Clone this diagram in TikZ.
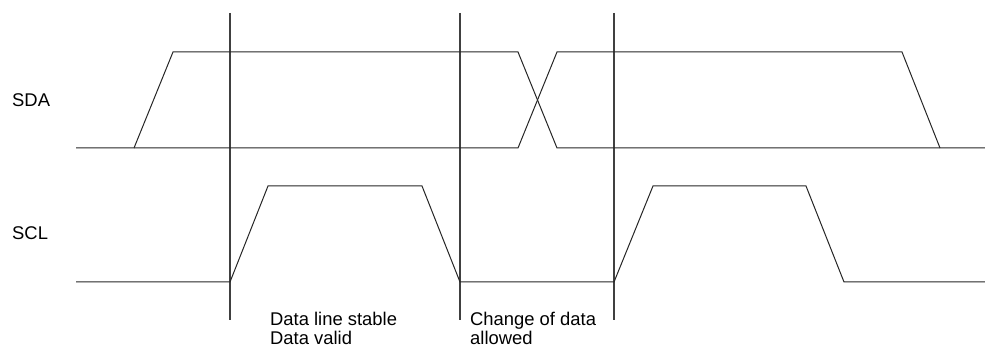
\documentclass[tikz,border=0pt]{standalone}
\usepackage{fontspec}
\setmainfont{Liberation Sans}
\begin{document}
\begin{tikzpicture}[x=1pt,y=-1pt,
  sig/.style={line width=1pt,draw=black!85,line join=miter},
  marker/.style={line width=1.1pt,draw=black!75},
  lbl/.style={anchor=base west,inner sep=0pt,font=\fontsize{18.4}{20.5}\selectfont}]
\useasboundingbox (0,0) rectangle (985,347);
% vertical markers
\coordinate (v1t) at (230,13); \coordinate (v1b) at (230,320);
\coordinate (v2t) at (460,13); \coordinate (v2b) at (460,320);
\coordinate (v3t) at (614,13); \coordinate (v3b) at (614,320);
\draw[marker] (v1t) -- (v1b);
\draw[marker] (v2t) -- (v2b);
\draw[marker] (v3t) -- (v3b);
% SDA
\draw[sig] (76,148) -- (134,148) -- (173,52) -- (518,52) -- (557,148) -- (985,148);
\draw[sig] (134,148) -- (518,148) -- (557,52) -- (902,52) -- (940,148);
% SCL
\draw[sig] (76,282) -- (230,282) -- (268,186) -- (422,186) -- (460,282) -- (614,282)
  -- (653,186) -- (806,186) -- (844,282) -- (985,282);
% labels
\node[lbl] (sda) at (12,106.5) {SDA};
\node[lbl] (scl) at (12,240) {SCL};
\node[lbl] (t1a) at (270,325) {Data line stable};
\node[lbl] (t1b) at (270,344.5) {Data valid};
\node[lbl] (t2a) at (470,325) {Change of data};
\node[lbl] (t2b) at (470,344.5) {allowed};
\end{tikzpicture}
\end{document}
